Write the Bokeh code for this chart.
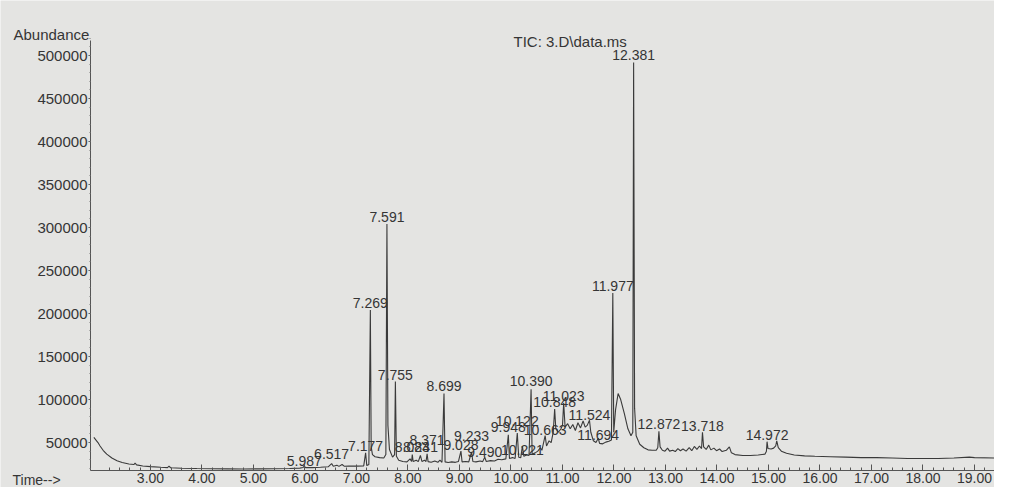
from bokeh.plotting import figure
from bokeh.models import FixedTicker, Label, ColumnDataSource, PrintfTickFormatter, BasicTickFormatter, Range1d
from bokeh.core.properties import value
from bokeh.embed import file_html
from bokeh.resources import INLINE

# ---- TIC trace (retention time in min, abundance) ----
time_min = [1.90, 1.98, 2.02, 2.08, 2.15, 2.25, 2.35, 2.45, 2.58, 2.68, 2.70, 2.73, 2.85, 3.0, 3.2, 3.33, 3.36, 3.39,
            3.6, 3.9, 4.2, 4.5, 4.8, 5.1, 5.4, 5.7, 5.9, 5.96, 5.987, 6.01, 6.15, 6.3, 6.45, 6.517, 6.55, 6.62,
            6.66, 6.72, 6.76, 6.85, 7.0, 7.14, 7.177, 7.20, 7.24, 7.269, 7.285, 7.31, 7.36, 7.45, 7.53, 7.57,
            7.591, 7.61, 7.64, 7.70, 7.74, 7.755, 7.775, 7.82, 7.90, 7.98, 8.04, 8.07, 8.083, 8.10, 8.16, 8.20,
            8.241, 8.27, 8.32, 8.35, 8.371, 8.39, 8.45, 8.52, 8.58, 8.62, 8.66, 8.699, 8.72, 8.78, 8.85, 8.92,
            8.98, 9.028, 9.05, 9.12, 9.18, 9.233, 9.26, 9.32, 9.40, 9.45, 9.490, 9.52, 9.60, 9.68, 9.75, 9.82,
            9.90, 9.948, 9.97, 10.03, 10.08, 10.122, 10.15, 10.19, 10.221, 10.25, 10.30, 10.35, 10.390, 10.41,
            10.47, 10.52, 10.57, 10.60, 10.663, 10.69, 10.74, 10.78, 10.82, 10.848, 10.87, 10.92, 10.97, 11.0,
            11.023, 11.05, 11.10, 11.15, 11.20, 11.25, 11.30, 11.35, 11.40, 11.44, 11.48, 11.524, 11.55, 11.60,
            11.65, 11.694, 11.72, 11.78, 11.84, 11.90, 11.95, 11.977, 11.995, 12.03, 12.08, 12.13, 12.20, 12.27,
            12.33, 12.365, 12.381, 12.40, 12.43, 12.50, 12.58, 12.66, 12.74, 12.82, 12.85, 12.872, 12.895, 12.94,
            12.99, 13.04, 13.08, 13.14, 13.19, 13.24, 13.29, 13.34, 13.40, 13.46, 13.51, 13.56, 13.61, 13.66,
            13.70, 13.718, 13.74, 13.79, 13.84, 13.88, 13.94, 13.99, 14.05, 14.10, 14.18, 14.24, 14.28, 14.35,
            14.5, 14.65, 14.8, 14.93, 14.96, 14.972, 14.99, 15.05, 15.10, 15.14, 15.16, 15.19, 15.25, 15.35,
            15.5, 15.7, 15.9, 16.2, 16.5, 16.8, 17.1, 17.4, 17.7, 18.0, 18.3, 18.6, 18.9, 19.0, 19.38]
abundance = [56000, 50000, 46000, 41000, 36500, 32000, 28800, 26800, 25000, 24500, 26000, 24000, 22800, 22000, 21200,
             20800, 22500, 20700, 20200, 19800, 19600, 19400, 19300, 19400, 19600, 19900, 20300, 21000, 22500,
             20800, 20900, 21300, 21800, 25500, 22500, 23500, 22300, 24500, 22500, 22800, 22600, 22800, 38000,
             23200, 24500, 204000, 45000, 36000, 33500, 32500, 32000, 36000, 304000, 70000, 42000, 33000, 36000,
             121000, 34000, 29500, 28000, 27500, 31000, 28000, 36000, 28000, 29500, 27800, 35000, 28000, 29500,
             28000, 37000, 27800, 27000, 28500, 27000, 29500, 27000, 107000, 27500, 26800, 27500, 27000, 28000,
             40000, 27500, 28000, 27500, 39000, 28000, 27500, 28500, 27800, 33000, 28000, 29000, 28500, 30500,
             30000, 31000, 59000, 31500, 32500, 31500, 61000, 33000, 32500, 46000, 34000, 35500, 35000, 112000,
             36500, 38000, 40000, 44000, 41000, 58000, 46000, 52000, 50000, 62000, 89000, 66000, 62000, 66000,
             70000, 96000, 68000, 72000, 66000, 71000, 64000, 73000, 67000, 75000, 68000, 70000, 76000, 62000,
             52000, 50000, 55000, 49000, 48500, 50500, 51500, 53000, 224000, 62000, 88000, 107000, 100000, 84000,
             66000, 58000, 62000, 492000, 90000, 58000, 48000, 44000, 41500, 41000, 41000, 44000, 63000, 45000,
             41000, 40000, 43500, 40000, 41000, 39500, 43000, 40500, 42500, 40000, 44000, 40500, 45500, 42000,
             46000, 43000, 62000, 45000, 42000, 47000, 41500, 43500, 40500, 42500, 39500, 41000, 45000, 38000,
             36000, 35000, 35000, 35500, 36500, 40000, 51000, 43000, 42500, 43500, 46000, 52000, 44000, 40000,
             37500, 35500, 34500, 34000, 33500, 33000, 32500, 32500, 32000, 31500, 31500, 31500, 32000, 33000,
             32500, 32000]

# ---- labelled peaks: retention time, abundance at the label foot, printed label ----
peak_rt = [5.987, 6.517, 7.177, 7.269, 7.591, 7.755, 8.083, 8.241, 8.371, 8.699, 9.028, 9.233, 9.490,
           9.948, 10.122, 10.221, 10.390, 10.663, 10.848, 11.023, 11.524, 11.694, 11.977, 12.381, 12.872,
           13.718, 14.972]
peak_level = [22500, 30500, 39700, 206700, 306000, 123000, 38500, 38500, 47700, 109500, 40800, 52300, 32800,
              62600, 69500, 35100, 115200, 59200, 91200, 98000, 76300, 53400, 226000, 495000, 66000,
              64000, 53000]
peak_labels = ["5.987", "6.517", "7.177", "7.269", "7.591", "7.755", "8.083", "8.241", "8.371", "8.699",
               "9.028", "9.233", "9.490", "9.948", "10.122", "10.221", "10.390", "10.663", "10.848", "11.023",
               "11.524", "11.694", "11.977", "12.381", "12.872", "13.718", "14.972"]

x_ticks = [3.0, 4.0, 5.0, 6.0, 7.0, 8.0, 9.0, 10.0, 11.0, 12.0, 13.0, 14.0, 15.0, 16.0, 17.0, 18.0, 19.0]
y_ticks = [50000, 100000, 150000, 200000, 250000, 300000, 350000, 400000, 450000, 500000]

FONT = "Liberation Sans"
INK = "#353535"
BG = "#e4e4e2"

W, H = 994, 487
T0, T1 = 1.835, 19.388          # time span of the drawn axis
A0, A1 = 17500, 517500          # abundance span of the drawn axis
PX_MIN = 51.5                   # px per minute
PX_AB = 43.0 / 50000            # px per abundance unit
AX_X, AX_Y = 90, 470            # pixel position of the axes corner

p = figure(width=W, height=H, output_backend="svg", toolbar_location=None,
           x_range=Range1d(T0 - AX_X / PX_MIN, T0 + (W - AX_X) / PX_MIN),
           y_range=Range1d(A0 - (H - AX_Y) / PX_AB, A0 + AX_Y / PX_AB),
           min_border_left=0, min_border_right=0, min_border_top=0, min_border_bottom=0)
p.background_fill_color = BG
p.border_fill_color = BG
p.outline_line_color = None
p.xgrid.visible = False
p.ygrid.visible = False

p.line(time_min, abundance, line_color="#3a3a3a", line_width=1.1)

src = ColumnDataSource(dict(rt=peak_rt, lev=peak_level, lab=peak_labels))
p.text(x="rt", y="lev", text="lab", source=src, text_align="center", text_baseline="bottom",
       text_font=value(FONT), text_font_size="14px", text_color=INK)

minor_x = [round(2.0 + 0.2 * i, 2) for i in range(87)]
minor_x = [m for m in minor_x if abs(m - round(m)) > 1e-6]
p.xaxis.ticker = FixedTicker(ticks=x_ticks, minor_ticks=minor_x)
p.xaxis.formatter = PrintfTickFormatter(format="%.2f")
p.xaxis.fixed_location = A0
p.xaxis.bounds = (T0, T1)
p.xaxis.major_tick_in = 6
p.xaxis.major_tick_out = 0
p.xaxis.minor_tick_in = 3
p.xaxis.minor_tick_out = 0
p.xaxis.major_label_standoff = 2
p.xaxis.axis_line_color = "#555555"
p.xaxis.major_tick_line_color = "#555555"
p.xaxis.minor_tick_line_color = "#555555"
p.xaxis.major_label_text_font = FONT
p.xaxis.major_label_text_font_size = "14px"
p.xaxis.major_label_text_color = INK

p.yaxis.ticker = FixedTicker(ticks=y_ticks, minor_ticks=[v for v in range(20000, 520001, 10000)])
p.yaxis.formatter = BasicTickFormatter(use_scientific=False)
p.yaxis.fixed_location = T0
p.yaxis.bounds = (A0, A1)
p.yaxis.major_tick_in = 0
p.yaxis.major_tick_out = 2
p.yaxis.minor_tick_in = 0
p.yaxis.minor_tick_out = 1
p.yaxis.major_label_standoff = 1
p.yaxis.axis_line_color = "#555555"
p.yaxis.major_tick_line_color = "#555555"
p.yaxis.minor_tick_line_color = "#777777"
p.yaxis.major_label_text_font = FONT
p.yaxis.major_label_text_font_size = "15px"
p.yaxis.major_label_text_color = INK

p.add_layout(Label(x=13, y=H - 34, x_units="screen", y_units="screen", text="Abundance",
                   text_font=FONT, text_font_size="15px", text_color=INK, text_baseline="middle"))
p.add_layout(Label(x=12, y=H - 479, x_units="screen", y_units="screen", text="Time-->",
                   text_font=FONT, text_font_size="14px", text_color=INK, text_baseline="middle"))
p.add_layout(Label(x=513, y=H - 41, x_units="screen", y_units="screen", text="TIC: 3.D\\data.ms",
                   text_font=FONT, text_font_size="15px", text_color=INK, text_baseline="middle"))

open("out.html", "w").write(file_html(p, INLINE))
